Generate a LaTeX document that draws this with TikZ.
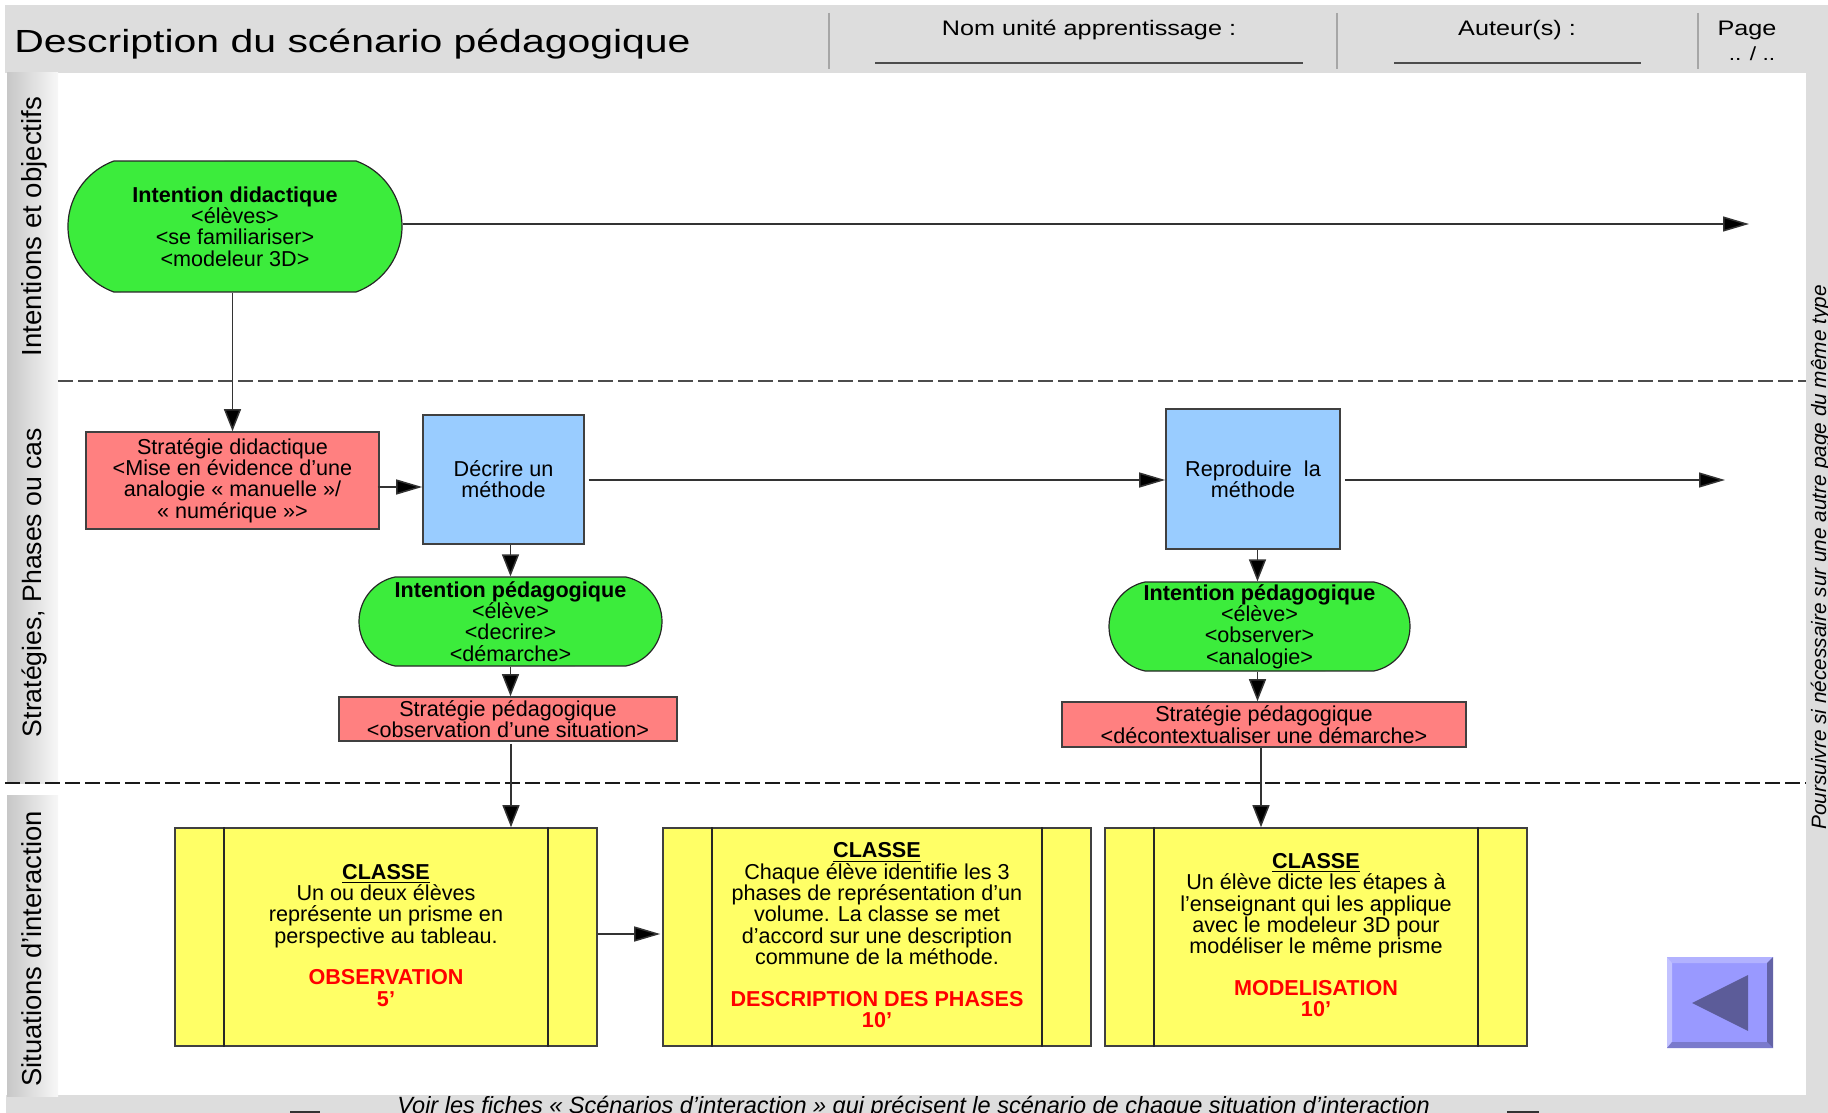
\documentclass[tikz,border=0pt]{standalone}
\usepackage{fontspec}
\setmainfont{Liberation Sans}
\newfontfamily\titlefont[FakeStretch=1.28]{Liberation Sans}
\newfontfamily\headfont[FakeStretch=1.2]{Liberation Sans}
\usepackage{xcolor}
\usetikzlibrary{arrows.meta,shapes.misc}

\definecolor{bandgray}{HTML}{DDDDDD}
\definecolor{intentgreen}{HTML}{3CEC3C}
\definecolor{stratred}{HTML}{FF8080}
\definecolor{phaseblue}{HTML}{99CCFF}
\definecolor{classyellow}{HTML}{FFFF66}
\definecolor{backviolet}{HTML}{9999FF}

\begin{document}
\begin{tikzpicture}[x=.5pt,y=-.5pt]
\tikzset{boxtext/.style={align=center,inner sep=0pt,font=\fontsize{10.8}{10.65}\selectfont}}
\tikzset{intentbox/.style={boxtext,rounded rectangle,draw=black!85,line width=.6pt,fill=intentgreen,inner xsep=-4pt}}
\tikzset{stratbox/.style={boxtext,rectangle,draw=black!75,line width=.8pt,fill=stratred}}
\tikzset{phasebox/.style={boxtext,rectangle,draw=black!75,line width=.8pt,fill=phaseblue}}
\tikzset{classbox/.style={boxtext,rectangle,draw=black!75,line width=.8pt,fill=classyellow,minimum height=109pt,text depth=1.9pt}}
\tikzset{sidelabel/.style={rotate=90,anchor=base}}
\tikzset{headlabel/.style={anchor=base,font=\headfont\fontsize{10.5}{12}\selectfont}}
\tikzset{arrowh/.style={draw=black!80,line width=.75pt,-{Triangle[length=13pt,width=7.5pt,fill=black]}}}
\tikzset{arrowv/.style={draw=black!80,line width=.75pt,-{Triangle[length=11pt,width=8.5pt,fill=black]}}}
\tikzset{swimline/.style={line width=.8pt,dash pattern=on 7.5pt off 2.5pt}}

\useasboundingbox (0,0) rectangle (1828,1113);

% frame of the form
\fill[bandgray] (5,5) rectangle (1828,73);
\fill[bandgray] (1806,73) rectangle (1828,1113);
\fill[bandgray] (6,1095) rectangle (1828,1113);
\shade[left color=black!22,right color=black!3] (7,73) rectangle (58,783);
\shade[left color=black!22,right color=black!3] (7,795) rectangle (58,1096);

\foreach \sepx in {829,1337,1698} {
  \draw[black!35,line width=.8pt] (\sepx,13) -- (\sepx,69);
}
\draw[black!70,line width=.8pt] (875,63) -- (1303,63);
\draw[black!70,line width=.8pt] (1394,63) -- (1641,63);
\fill[black!80] (290,1111) rectangle (320,1113);
\fill[black!80] (1507,1111) rectangle (1539,1113);

\node[anchor=base west,inner sep=0pt,font=\titlefont\fontsize{16}{18}\selectfont] (title) at (14,53) {Description du scénario pédagogique};
\node[headlabel] (nomunite) at (1089,36) {Nom unité apprentissage :};
\node[headlabel] (auteurs) at (1517,36) {Auteur(s) :};
\node[headlabel] (pagelabel) at (1747,36) {Page};
\node[headlabel,font=\headfont\fontsize{9.5}{12}\selectfont] (pagenum) at (1752,61) {.. / ..};

\node[sidelabel,font=\fontsize{13.8}{14}\selectfont] (sideA) at (41,226.5) {Intentions et objectifs};
\node[sidelabel,font=\fontsize{13.3}{14}\selectfont] (sideB) at (41,582.5) {Stratégies, Phases ou cas};
\node[sidelabel,font=\fontsize{13.7}{14}\selectfont] (sideC) at (41,949) {Situations d'interaction};
\node[rotate=90,anchor=base west,inner sep=0pt,font=\itshape\fontsize{10.4}{12}\selectfont] (suite) at (1826,830) {Poursuivre si nécessaire sur une autre page du même type};
\node[anchor=base west,inner sep=0pt,font=\itshape\fontsize{11.75}{12}\selectfont] (fiches) at (397,1113) {Voir les fiches « Scénarios d'interaction » qui précisent le scénario de chaque situation d'interaction};

% swimlanes
\draw[swimline,black!70] (58,381) -- (1806,381);
\draw[swimline,black!90,line width=1pt] (5,783) -- (1806,783);

\node[intentbox,minimum width=159pt,minimum height=65.5pt,rounded rectangle arc length=140] (intentDid) at (235,226.5) {\textbf{Intention didactique}\\<élèves>\\<se familiariser>\\<modeleur 3D>};
\node[stratbox,minimum width=146.5pt,minimum height=48.5pt] (stratDid) at (232.5,480.5) {Stratégie didactique\\<Mise en évidence d'une\\analogie « manuelle »/\\« numérique »>};
\node[phasebox,minimum width=80.5pt,minimum height=64.5pt] (decrire) at (503.5,479.5) {Décrire un\\méthode};
\node[phasebox,minimum width=87pt,minimum height=70pt] (reproduire) at (1253,479) {Reproduire\ \ la\\méthode};
\node[intentbox,minimum width=143.5pt,minimum height=44.5pt,rounded rectangle arc length=156] (intentPedA) at (510.5,621.5) {\textbf{Intention pédagogique}\\<élève>\\<decrire>\\<démarche>};
\node[intentbox,minimum width=142.5pt,minimum height=44.5pt,rounded rectangle arc length=156] (intentPedB) at (1259.5,626.5) {\textbf{Intention pédagogique}\\<élève>\\<observer>\\<analogie>};
\node[stratbox,minimum width=169pt,minimum height=22pt] (stratPedA) at (508,719) {Stratégie pédagogique\\<observation d'une situation>};
\node[stratbox,minimum width=202pt,minimum height=22.5pt] (stratPedB) at (1264,724.5) {Stratégie pédagogique\\<décontextualiser une démarche>};

\node[classbox,minimum width=211pt] (classeA) at (386,937) {\textbf{\underline{CLASSE}}\\Un ou deux élèves\\représente un prisme en\\perspective au tableau.\\[10.15pt]\textcolor{red}{\textbf{OBSERVATION}}\\\textcolor{red}{\textbf{5'}}};
\node[classbox,minimum width=214pt] (classeB) at (877,937) {\textbf{\underline{CLASSE}}\\Chaque élève identifie les 3\\phases de représentation d'un\\volume. La classe se met\\d'accord sur une description\\commune de la méthode.\\[10.15pt]\textcolor{red}{\textbf{DESCRIPTION DES PHASES}}\\\textcolor{red}{\textbf{10'}}};
\node[classbox,minimum width=211pt] (classeC) at (1316,937) {\textbf{\underline{CLASSE}}\\Un élève dicte les étapes à\\l'enseignant qui les applique\\avec le modeleur 3D pour\\modéliser le même prisme\\[10.15pt]\textcolor{red}{\textbf{MODELISATION}}\\\textcolor{red}{\textbf{10'}}};

\foreach \classbar in {classeA,classeB,classeC} {
  \draw[black!85,line width=.8pt] ([xshift=25pt]\classbar.north west) -- ([xshift=25pt]\classbar.south west);
  \draw[black!85,line width=.8pt] ([xshift=-25pt]\classbar.north east) -- ([xshift=-25pt]\classbar.south east);
}

\coordinate (endIntent) at (1749,224);
\coordinate (endPhase) at (1725,480);

\draw[arrowh] (intentDid.east |- endIntent) -- (endIntent);
\draw[arrowv] (intentDid.south -| stratDid.north) -- (stratDid.north);
\draw[arrowh,shorten <=-1pt] ([yshift=-3.25pt]stratDid.east) -- ([yshift=-3.25pt]stratDid.east -| decrire.west);
\draw[arrowh,shorten <=2pt] (decrire.east |- endPhase) -- (reproduire.west |- endPhase);
\draw[arrowh,shorten <=2pt] (reproduire.east |- endPhase) -- (endPhase);
\draw[arrowv] (decrire.south -| intentPedA.north) -- (intentPedA.north);
\draw[arrowv] (intentPedA.south) -- (intentPedA.south |- stratPedA.north);
\draw[arrowv,shorten <=1pt] ([xshift=1.5pt]stratPedA.south) -- ([xshift=1.5pt]stratPedA.south |- classeA.north);
\draw[arrowv] ([xshift=-1pt]intentPedB.north |- reproduire.south) -- ([xshift=-1pt]intentPedB.north);
\draw[arrowv] ([xshift=-1pt]intentPedB.south) -- ([xshift=-1pt]intentPedB.south |- stratPedB.north);
\draw[arrowv] ([xshift=-1.5pt]stratPedB.south) -- ([xshift=-1.5pt]stratPedB.south |- classeC.north);
\draw[arrowh,shorten >=1pt] ([yshift=1.5pt]classeA.east) -- ([yshift=1.5pt]classeA.east -| classeB.west);

% back button
\fill[backviolet] (1667,957) rectangle (1773,1048);
\fill[backviolet!75!white] (1667,957) -- (1773,957) -- (1767,963) -- (1672,963) -- cycle;
\fill[backviolet!60!white] (1667,957) -- (1672,963) -- (1672,1042) -- (1667,1048) -- cycle;
\fill[backviolet!80!black] (1667,1048) -- (1672,1042) -- (1767,1042) -- (1773,1048) -- cycle;
\fill[backviolet!65!black] (1773,957) -- (1767,963) -- (1767,1042) -- (1773,1048) -- cycle;
\fill[backviolet!60!black] (1692,1003) -- (1748,975) -- (1748,1031) -- cycle;

\end{tikzpicture}
\end{document}
